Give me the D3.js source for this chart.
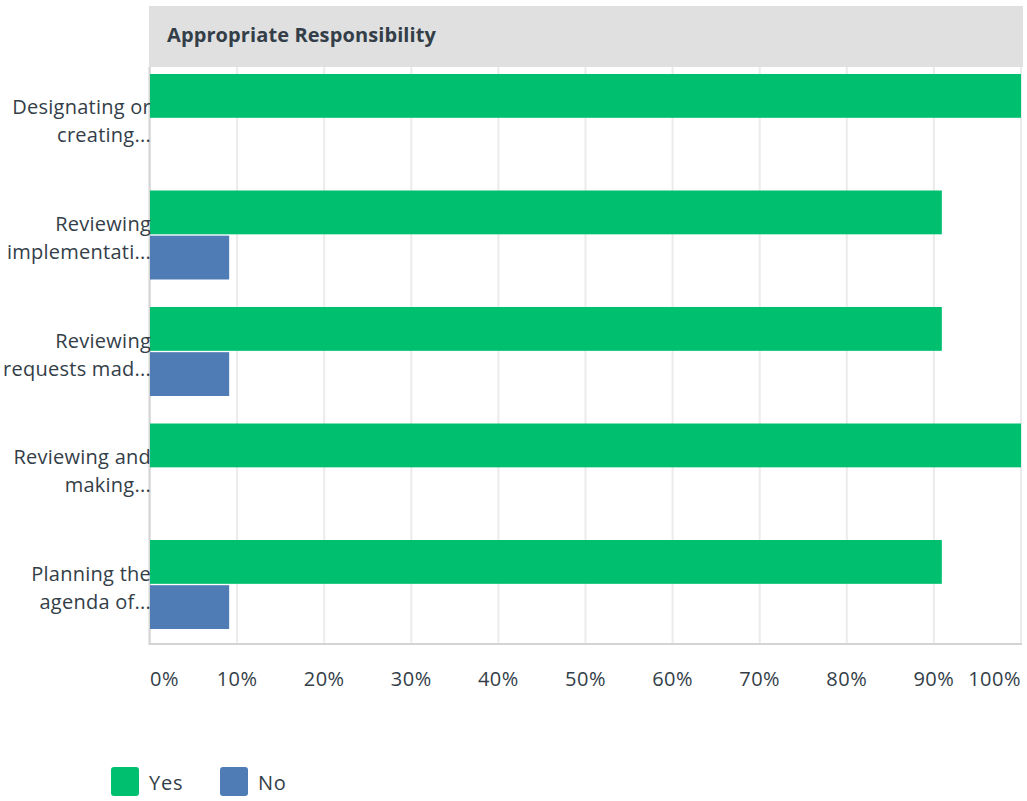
<!DOCTYPE html>
<html>
<head>
<meta charset="utf-8">
<script src="https://cdn.jsdelivr.net/npm/d3@7"></script>
<style>
  html, body { margin: 0; padding: 0; background: #fff; }
  svg { display: block; }
  text { font-family: "Open Sans", "Noto Sans", sans-serif; fill: #333e48; }
</style>
</head>
<body>
<svg id="chart" width="1027" height="801"></svg>
<script>
// Question rows (wrapped label lines, truncated as in the survey report)
const categories = [
  "Designating or creating...",
  "Reviewing implementati...",
  "Reviewing requests mad...",
  "Reviewing and making...",
  "Planning the agenda of..."
];
const labelLines = [
  ["Designating or", "creating..."],
  ["Reviewing", "implementati..."],
  ["Reviewing", "requests mad..."],
  ["Reviewing and", "making..."],
  ["Planning the", "agenda of..."]
];
const seriesNames = ["Yes", "No"];
const yesValues = [100, 90.91, 90.91, 100, 90.91];
const noValues = [0, 9.09, 9.09, 0, 9.09];
const tickValues = [0, 10, 20, 30, 40, 50, 60, 70, 80, 90, 100];
const title = "Appropriate Responsibility";

const colors = { Yes: "#00bf6f", No: "#507cb6" };

const svg = d3.select("#chart");

const plotLeft = 150, plotRight = 1021, plotTop = 67, plotBottom = 644;

const x = d3.scaleLinear().domain([0, 100]).range([plotLeft, plotRight]);
const y = d3.scaleBand().domain(categories).range([60, 643])
  .paddingInner(0.236).paddingOuter(0.12);
const ySub = d3.scaleBand().domain(seriesNames).range([0, y.bandwidth()])
  .paddingInner(0.03);

// Header band
svg.append("rect")
  .attr("x", 149).attr("y", 6).attr("width", 874).attr("height", 61)
  .attr("fill", "#e0e0e0");
svg.append("text")
  .attr("x", 167).attr("y", 42)
  .attr("font-size", 20).attr("font-weight", 700)
  .attr("letter-spacing", 0.1)
  .text(title);

// Vertical grid lines
svg.append("g")
  .selectAll("line")
  .data(tickValues)
  .join("line")
  .attr("x1", d => x(d)).attr("x2", d => x(d))
  .attr("y1", plotTop).attr("y2", plotBottom)
  .attr("stroke", "#ebebeb").attr("stroke-width", 2);

// Axis lines
svg.append("line")
  .attr("x1", plotLeft - 0.5).attr("x2", plotLeft - 0.5)
  .attr("y1", plotTop).attr("y2", plotBottom + 1)
  .attr("stroke", "#d4d4d4").attr("stroke-width", 2);
svg.append("line")
  .attr("x1", plotLeft - 1.5).attr("x2", plotRight + 1)
  .attr("y1", plotBottom).attr("y2", plotBottom)
  .attr("stroke", "#d4d4d4").attr("stroke-width", 2);

// Bars
const rows = categories.map((c, i) => ({ cat: c, Yes: yesValues[i], No: noValues[i] }));
const groups = svg.append("g")
  .selectAll("g")
  .data(rows)
  .join("g")
  .attr("transform", d => `translate(0,${y(d.cat)})`);

groups.selectAll("rect")
  .data(d => seriesNames.map(s => ({ key: s, value: d[s] })))
  .join("rect")
  .attr("x", x(0))
  .attr("y", d => ySub(d.key))
  .attr("width", d => x(d.value) - x(0))
  .attr("height", ySub.bandwidth())
  .attr("fill", d => colors[d.key]);

// Category labels (two lines, right aligned against the axis)
const labels = svg.append("g")
  .selectAll("text")
  .data(categories)
  .join("text")
  .attr("text-anchor", "end")
  .attr("font-size", 20)
  .attr("letter-spacing", 0.25)
  .attr("y", d => y(d) + y.bandwidth() / 2);
labels.selectAll("tspan")
  .data((d, i) => labelLines[i])
  .join("tspan")
  .attr("x", 151)
  .attr("dy", (d, j) => j === 0 ? -4 : 28)
  .text(d => d);

// X tick labels
svg.append("g")
  .selectAll("text")
  .data(tickValues)
  .join("text")
  .attr("x", d => x(d))
  .attr("y", 686)
  .attr("font-size", 20)
  .attr("letter-spacing", 0.5)
  .attr("text-anchor", (d, i) => i === 0 ? "start" : (i === tickValues.length - 1 ? "end" : "middle"))
  .text(d => d + "%");

// Legend
const legend = svg.append("g")
  .selectAll("g")
  .data(seriesNames)
  .join("g")
  .attr("transform", (d, i) => `translate(${111 + i * 109},767)`);
legend.append("rect")
  .attr("width", 28).attr("height", 29).attr("rx", 3)
  .attr("fill", d => colors[d]);
legend.append("text")
  .attr("x", 38).attr("y", 23)
  .attr("font-size", 20)
  .attr("letter-spacing", 0.8)
  .text(d => d);
</script>
</body>
</html>
